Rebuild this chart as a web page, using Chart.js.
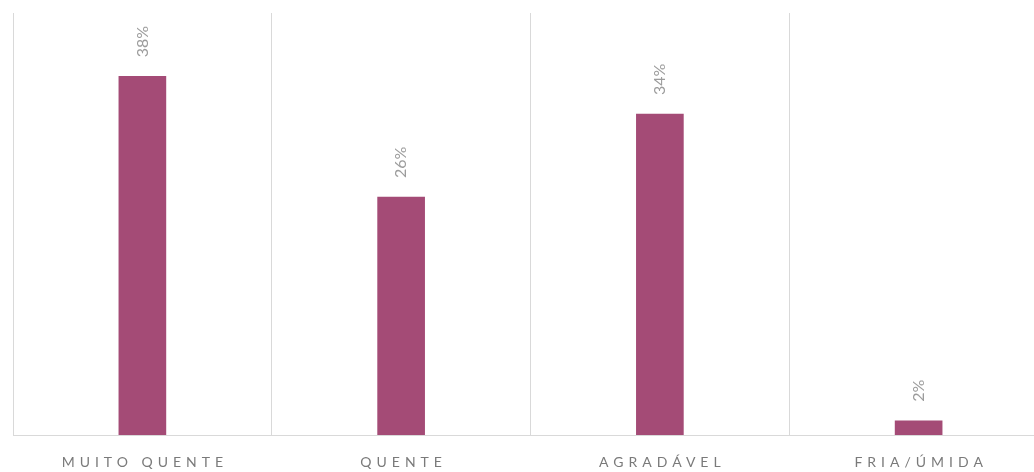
<!DOCTYPE html>
<html>
<head>
<meta charset="utf-8">
<script src="https://cdn.jsdelivr.net/npm/chart.js@4"></script>
<style>
  html, body { margin: 0; padding: 0; background: #fff; overflow: hidden; }
  #wrap { width: 1048px; height: 472px; }
</style>
</head>
<body>
<div id="wrap"><canvas id="chart"></canvas></div>
<script>
// categories and values
const categories = ['MUITO QUENTE', 'QUENTE', 'AGRADÁVEL', 'FRIA/ÚMIDA'];
const values = [38, 25.2, 34, 1.5];
const valueLabels = ['38%', '26%', '34%', '2%'];

const barColor = '#A44B76';

// rotated labels above each bar + spaced category names
const labelsPlugin = {
    id: 'labelsPlugin',
    afterDatasetsDraw(chart) {
        const ctx = chart.ctx;
        const meta = chart.getDatasetMeta(0);
        ctx.save();
        ctx.fillStyle = '#9c9c9c';
        ctx.font = '16px Lato';
        ctx.textAlign = 'left';
        ctx.textBaseline = 'middle';
        meta.data.forEach((bar, i) => {
            ctx.save();
            ctx.translate(bar.x, bar.y - 19);
            ctx.rotate(-Math.PI / 2);
            ctx.fillText(valueLabels[i], 0, 0);
            ctx.restore();
        });
        ctx.restore();

        const xScale = chart.scales.x;
        ctx.save();
        ctx.fillStyle = '#7a7a7a';
        ctx.font = '14px Lato';
        ctx.letterSpacing = '5px';
        ctx.textAlign = 'left';
        ctx.textBaseline = 'middle';
        categories.forEach((c, i) => {
            const w = ctx.measureText(c).width - 5;
            const x = xScale.getPixelForValue(i);
            ctx.fillText(c, x - w / 2, 462);
        });
        ctx.restore();
    }
};

new Chart(document.getElementById('chart').getContext('2d'), {
    type: 'bar',
    data: {
        labels: categories,
        datasets: [{
            data: values,
            backgroundColor: barColor,
            barThickness: 47
        }]
    },
    options: {
        responsive: true,
        maintainAspectRatio: false,
        animation: false,
        layout: { padding: { left: 13, top: 13, right: 0, bottom: 37 } },
        plugins: {
            legend: { display: false },
            tooltip: { enabled: false }
        },
        scales: {
            x: {
                grid: { color: '#d9d9d9', drawTicks: false, offset: true },
                border: { color: '#d9d9d9' },
                ticks: { display: false }
            },
            y: {
                display: false,
                min: 0,
                max: 44.7
            }
        }
    },
    plugins: [labelsPlugin]
});
</script>
</body>
</html>
